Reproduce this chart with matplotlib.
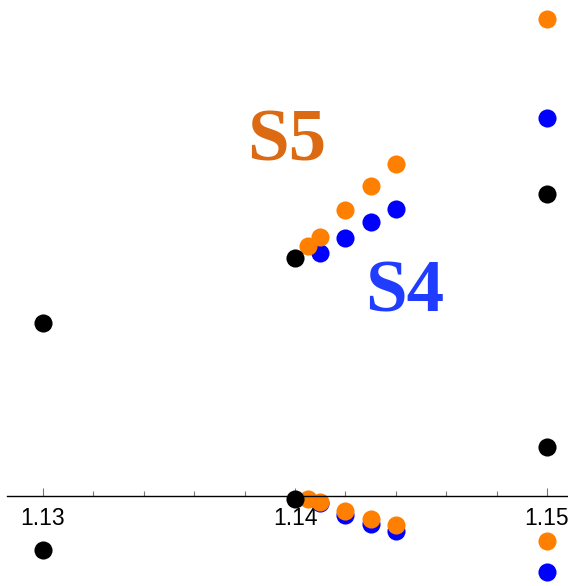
import matplotlib
matplotlib.use('Agg')
import matplotlib.pyplot as plt
from matplotlib.ticker import MultipleLocator

# ── data ────────────────────────────────────────────────────────────────────
black_x = [1.13, 1.13, 1.14, 1.14, 1.15, 1.15]
black_y = [1.73, -0.54, 2.38, -0.03, 3.02, 0.49]

blue_x = [1.141, 1.142, 1.143, 1.144, 1.15, 1.141, 1.142, 1.143, 1.144, 1.15]
blue_y = [2.43, 2.58, 2.74, 2.87, 3.78, -0.07, -0.19, -0.28, -0.35, -0.76]

orange_x = [1.1405, 1.141, 1.142, 1.143, 1.144, 1.15,
            1.1405, 1.141, 1.142, 1.143, 1.144, 1.15]
orange_y = [2.50, 2.59, 2.86, 3.10, 3.32, 4.77,
            -0.03, -0.06, -0.15, -0.23, -0.29, -0.45]

major_ticks = [1.13, 1.14, 1.15]
tick_labels = ['1.13', '1.14', '1.15']

# ── figure ──────────────────────────────────────────────────────────────────
fig = plt.figure(figsize=(5.68, 5.86), dpi=100)
ax = fig.add_axes([7/568, 0, 561/568, 1])
ax.set_xlim(1.13 - 36/25200, 1.13 + 525/25200)
ax.set_ylim(-0.90, 4.96)

S = 170
ax.scatter(blue_x, blue_y, s=S, color='#0000ff', lw=0, zorder=3)
ax.scatter(orange_x, orange_y, s=S, color='#ff8000', lw=0, zorder=4)
ax.scatter(black_x, black_y, s=S, color='black', lw=0, zorder=5)

ax.text(1.13968, 3.54, 'S5', ha='center', va='center', fontsize=54,
        fontweight='bold', family='Liberation Serif', color='#db6a12')
ax.text(1.144365, 2.03, 'S4', ha='center', va='center', fontsize=54,
        fontweight='bold', family='Liberation Serif', color='#1f3cff')

# ── axis ────────────────────────────────────────────────────────────────────
for side in ['left', 'right', 'top']:
    ax.spines[side].set_visible(False)
ax.spines['bottom'].set_position(('data', 0))
ax.spines['bottom'].set_zorder(6)
ax.spines['bottom'].set_linewidth(1.0)
ax.set_yticks([])
ax.set_xticks(major_ticks)
ax.set_xticklabels(tick_labels, family='Liberation Sans', fontsize=16.5)
ax.xaxis.set_minor_locator(MultipleLocator(0.002))
ax.tick_params(axis='x', which='major', direction='in', length=6,
               width=0.8, color='#777777', pad=8, zorder=6)
ax.tick_params(axis='x', which='minor', direction='in', length=3.5,
               width=0.8, color='#777777', zorder=6)

fig.savefig('out.png', dpi=100, facecolor='white')
